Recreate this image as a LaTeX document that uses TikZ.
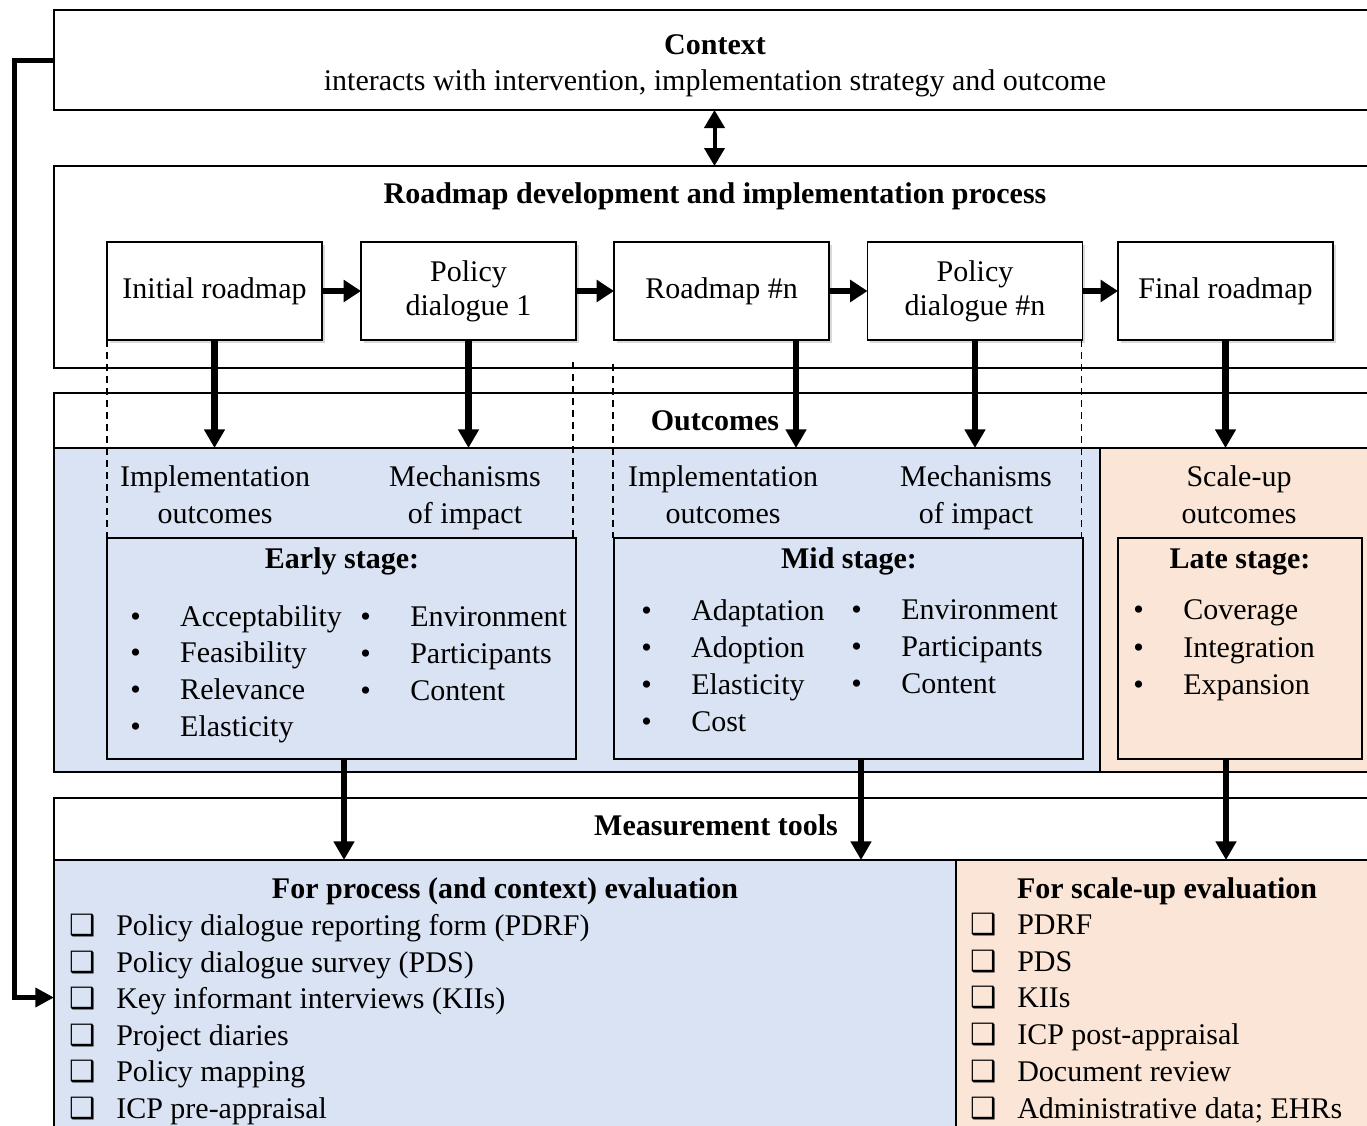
\documentclass[tikz,border=0pt]{standalone}
\usepackage{fontspec}
\setmainfont{Liberation Serif}
\newfontfamily\dejavu{DejaVu Sans}
\usepackage{tikz}
\usetikzlibrary{arrows.meta,positioning,shadows,calc}

\definecolor{stageblue}{HTML}{DAE3F3}
\definecolor{stagepeach}{HTML}{FBE5D6}
\newcommand{\bul}[1]{\makebox[37.5pt][l]{\textbullet}#1}
\newcommand{\chkitem}[1]{\makebox[35.25pt][l]{{\dejavu\fontsize{22}{22}\selectfont ❑}}#1}

\begin{document}
\begin{tikzpicture}[x=0.75pt,y=0.75pt,yscale=-1,
    font=\fontsize{22.5}{27.75}\selectfont,
    frame/.style={draw, line width=1.2pt, inner sep=0pt, outer sep=0pt, anchor=north west},
    stepbox/.style={draw, line width=1.2pt, fill=white, minimum width=161.25pt, minimum height=73.5pt, inner sep=2pt, outer sep=0pt, align=center, font=\fontsize{22.5}{25.5}\selectfont, drop shadow={opacity=0.3, shadow xshift=2pt, shadow yshift=-2pt}},
    stagebox/.style={draw, line width=1.8pt, inner sep=0pt, outer sep=0pt, anchor=north west, minimum height=165.75pt},
    ttl/.style={font=\fontsize{22.5}{27.75}\selectfont\bfseries, anchor=base},
    txt/.style={anchor=base west, inner sep=0pt},
    harr/.style={line width=5pt, -{Triangle[length=13pt, width=16pt]}},
    varr/.style={line width=5pt, -{Triangle[length=14pt, width=15pt]}},
    darr/.style={line width=3pt, {Triangle[length=13.5pt, width=15pt]}-{Triangle[length=13.5pt, width=15pt]}},
    fbarr/.style={line width=3.75pt, line join=miter, -{Triangle[length=14pt, width=14pt]}},
    dline/.style={line width=1pt, dash pattern=on 5pt off 4pt}]
\useasboundingbox (0,0) rectangle (1367,1125);
\clip (0,0) rectangle (1367,1125);

% Context
\node[frame, minimum width=990.75pt, minimum height=75pt] (ctxbox) at (54,10) {};
\node[ttl] (ctx) at (715,54) {Context};
\node[anchor=base] (ctxsub) at (715,90) {interacts with intervention, implementation strategy and outcome};

% Roadmap process
\node[frame, minimum width=990.75pt, minimum height=151.5pt] (roadbox) at (54,166) {};
\node[ttl] (roadttl) at (715,203) {Roadmap development and implementation process};
\draw[darr] (ctxbox.south) -- (roadbox.north);

% Outcomes
\node[frame, minimum width=990.75pt, minimum height=41.25pt] (outbox) at (54,393) {};
\node[frame, fill=stageblue, minimum width=784.5pt, minimum height=243pt] (bluezone) at (54,448) {};
\node[frame, fill=stagepeach, minimum width=206.25pt, minimum height=243pt] (peachzone) at (1100,448) {};
\node[ttl] (outttl) at (715,430) {Outcomes};

% Measurement tools
\node[frame, minimum width=990.75pt, minimum height=46.5pt] (measbox) at (54,798) {};
\node[frame, fill=stageblue, minimum width=676.5pt, minimum height=206.25pt] (procbox) at (54,860) {};
\node[frame, fill=stagepeach, minimum width=314.25pt, minimum height=206.25pt] (scalebox) at (956,860) {};
\node[ttl] (measttl) at (716,835) {Measurement tools};

% Steps
\node[stepbox] (init) at (214.5,291) {Initial roadmap};
\node[stepbox] (pd1) at (468.5,291) {Policy\\dialogue 1};
\node[stepbox] (rmn) at (721.5,291) {Roadmap \#n};
\node[stepbox] (pdn) at (975,291) {Policy\\dialogue \#n};
\node[stepbox] (final) at (1225.5,291) {Final roadmap};
\draw[harr] (init) -- (pd1);
\draw[harr] (pd1) -- (rmn);
\draw[harr] (rmn) -- (pdn);
\draw[harr] (pdn) -- (final);

% Outcome labels
\node[align=center] (impl1) at (215,495) {Implementation\\outcomes};
\node[align=center] (mech1) at (465,498) {Mechanisms\\of impact};
\node[align=center] (impl2) at (723,495) {Implementation\\outcomes};
\node[align=center] (mech2) at (976,498) {Mechanisms\\of impact};
\node[align=center] (scout) at (1239,495) {Scale-up\\outcomes};

% Stage boxes
\node[stagebox, fill=stageblue, minimum width=351.75pt] (early) at (107,538) {};
\node[stagebox, fill=stageblue, minimum width=351.75pt] (mid) at (614,538) {};
\node[stagebox, fill=stagepeach, minimum width=183pt] (late) at (1118,538) {};
\node[ttl] (earlyttl) at (342,568) {Early stage:};
\node[ttl] (midttl) at (849,568) {Mid stage:};
\node[ttl] (latettl) at (1240,568) {Late stage:};

\node[txt] (e1) at (130,626) {\bul{Acceptability}};
\node[txt] (e2) at (130,662) {\bul{Feasibility}};
\node[txt] (e3) at (130,699) {\bul{Relevance}};
\node[txt] (e4) at (130,736) {\bul{Elasticity}};
\node[txt] (e5) at (360,626) {\bul{Environment}};
\node[txt] (e6) at (360,663) {\bul{Participants}};
\node[txt] (e7) at (360,700) {\bul{Content}};

\node[txt] (m1) at (641,620) {\bul{Adaptation}};
\node[txt] (m2) at (641,657) {\bul{Adoption}};
\node[txt] (m3) at (641,694) {\bul{Elasticity}};
\node[txt] (m4) at (641,731) {\bul{Cost}};
\node[txt] (m5) at (851,619) {\bul{Environment}};
\node[txt] (m6) at (851,656) {\bul{Participants}};
\node[txt] (m7) at (851,693) {\bul{Content}};

\node[txt] (l1) at (1133,619) {\bul{Coverage}};
\node[txt] (l2) at (1133,657) {\bul{Integration}};
\node[txt] (l3) at (1133,694) {\bul{Expansion}};

% dashed guides
\draw[dline] (init.south west) -- (init.south west |- early.north);
\draw[dline] ($(pd1.south east)+(-3,22)$) -- ($(pd1.south east |- early.north)+(-3,0)$);
\draw[dline] ($(rmn.south west)+(-1,24)$) -- ($(rmn.south west |- early.north)+(-1,0)$);
\draw[dline] ($(pdn.south east)+(-1,0)$) -- ($(pdn.south east |- early.north)+(-1,0)$);

% arrows down to outcomes
\coordinate (rmnout) at ($(rmn.south)+(74.5,0)$);
\draw[varr] (init.south) -- (init.south |- bluezone.north);
\draw[varr] (pd1.south) -- (pd1.south |- bluezone.north);
\draw[varr] (rmnout) -- (rmnout |- bluezone.north);
\draw[varr] (pdn.south) -- (pdn.south |- bluezone.north);
\draw[varr] (final.south) -- (final.south |- peachzone.north);

% arrows down to tools
\coordinate (earlyout) at ($(early.south)+(2.5,0)$);
\coordinate (midout) at ($(mid.south)+(12.5,0)$);
\coordinate (lateout) at ($(late.south)+(-14,0)$);
\draw[varr] (earlyout) -- (earlyout |- procbox.north);
\draw[varr] (midout) -- (midout |- procbox.north);
\draw[varr] (lateout) -- (lateout |- scalebox.north);

% Tools
\node[ttl] (procttl) at (505,898) {For process (and context) evaluation};
\node[ttl] (scalettl) at (1167,898) {For scale-up evaluation};
\node[txt] (p1) at (69,935) {\chkitem{Policy dialogue reporting form (PDRF)}};
\node[txt] (p2) at (69,972) {\chkitem{Policy dialogue survey (PDS)}};
\node[txt] (p3) at (69,1008) {\chkitem{Key informant interviews (KIIs)}};
\node[txt] (p4) at (69,1045) {\chkitem{Project diaries}};
\node[txt] (p5) at (69,1081) {\chkitem{Policy mapping}};
\node[txt] (p6) at (69,1118) {\chkitem{ICP pre-appraisal}};
\node[txt] (s1) at (970,934) {\chkitem{PDRF}};
\node[txt] (s2) at (970,971) {\chkitem{PDS}};
\node[txt] (s3) at (970,1007) {\chkitem{KIIs}};
\node[txt] (s4) at (970,1044) {\chkitem{ICP post-appraisal}};
\node[txt] (s5) at (970,1081) {\chkitem{Document review}};
\node[txt] (s6) at (970,1118) {\chkitem{Administrative data; EHRs}};

% feedback from context
\draw[fbarr] (ctxbox.west) -- ++(-40,0) |- (procbox.west);
\end{tikzpicture}
\end{document}
